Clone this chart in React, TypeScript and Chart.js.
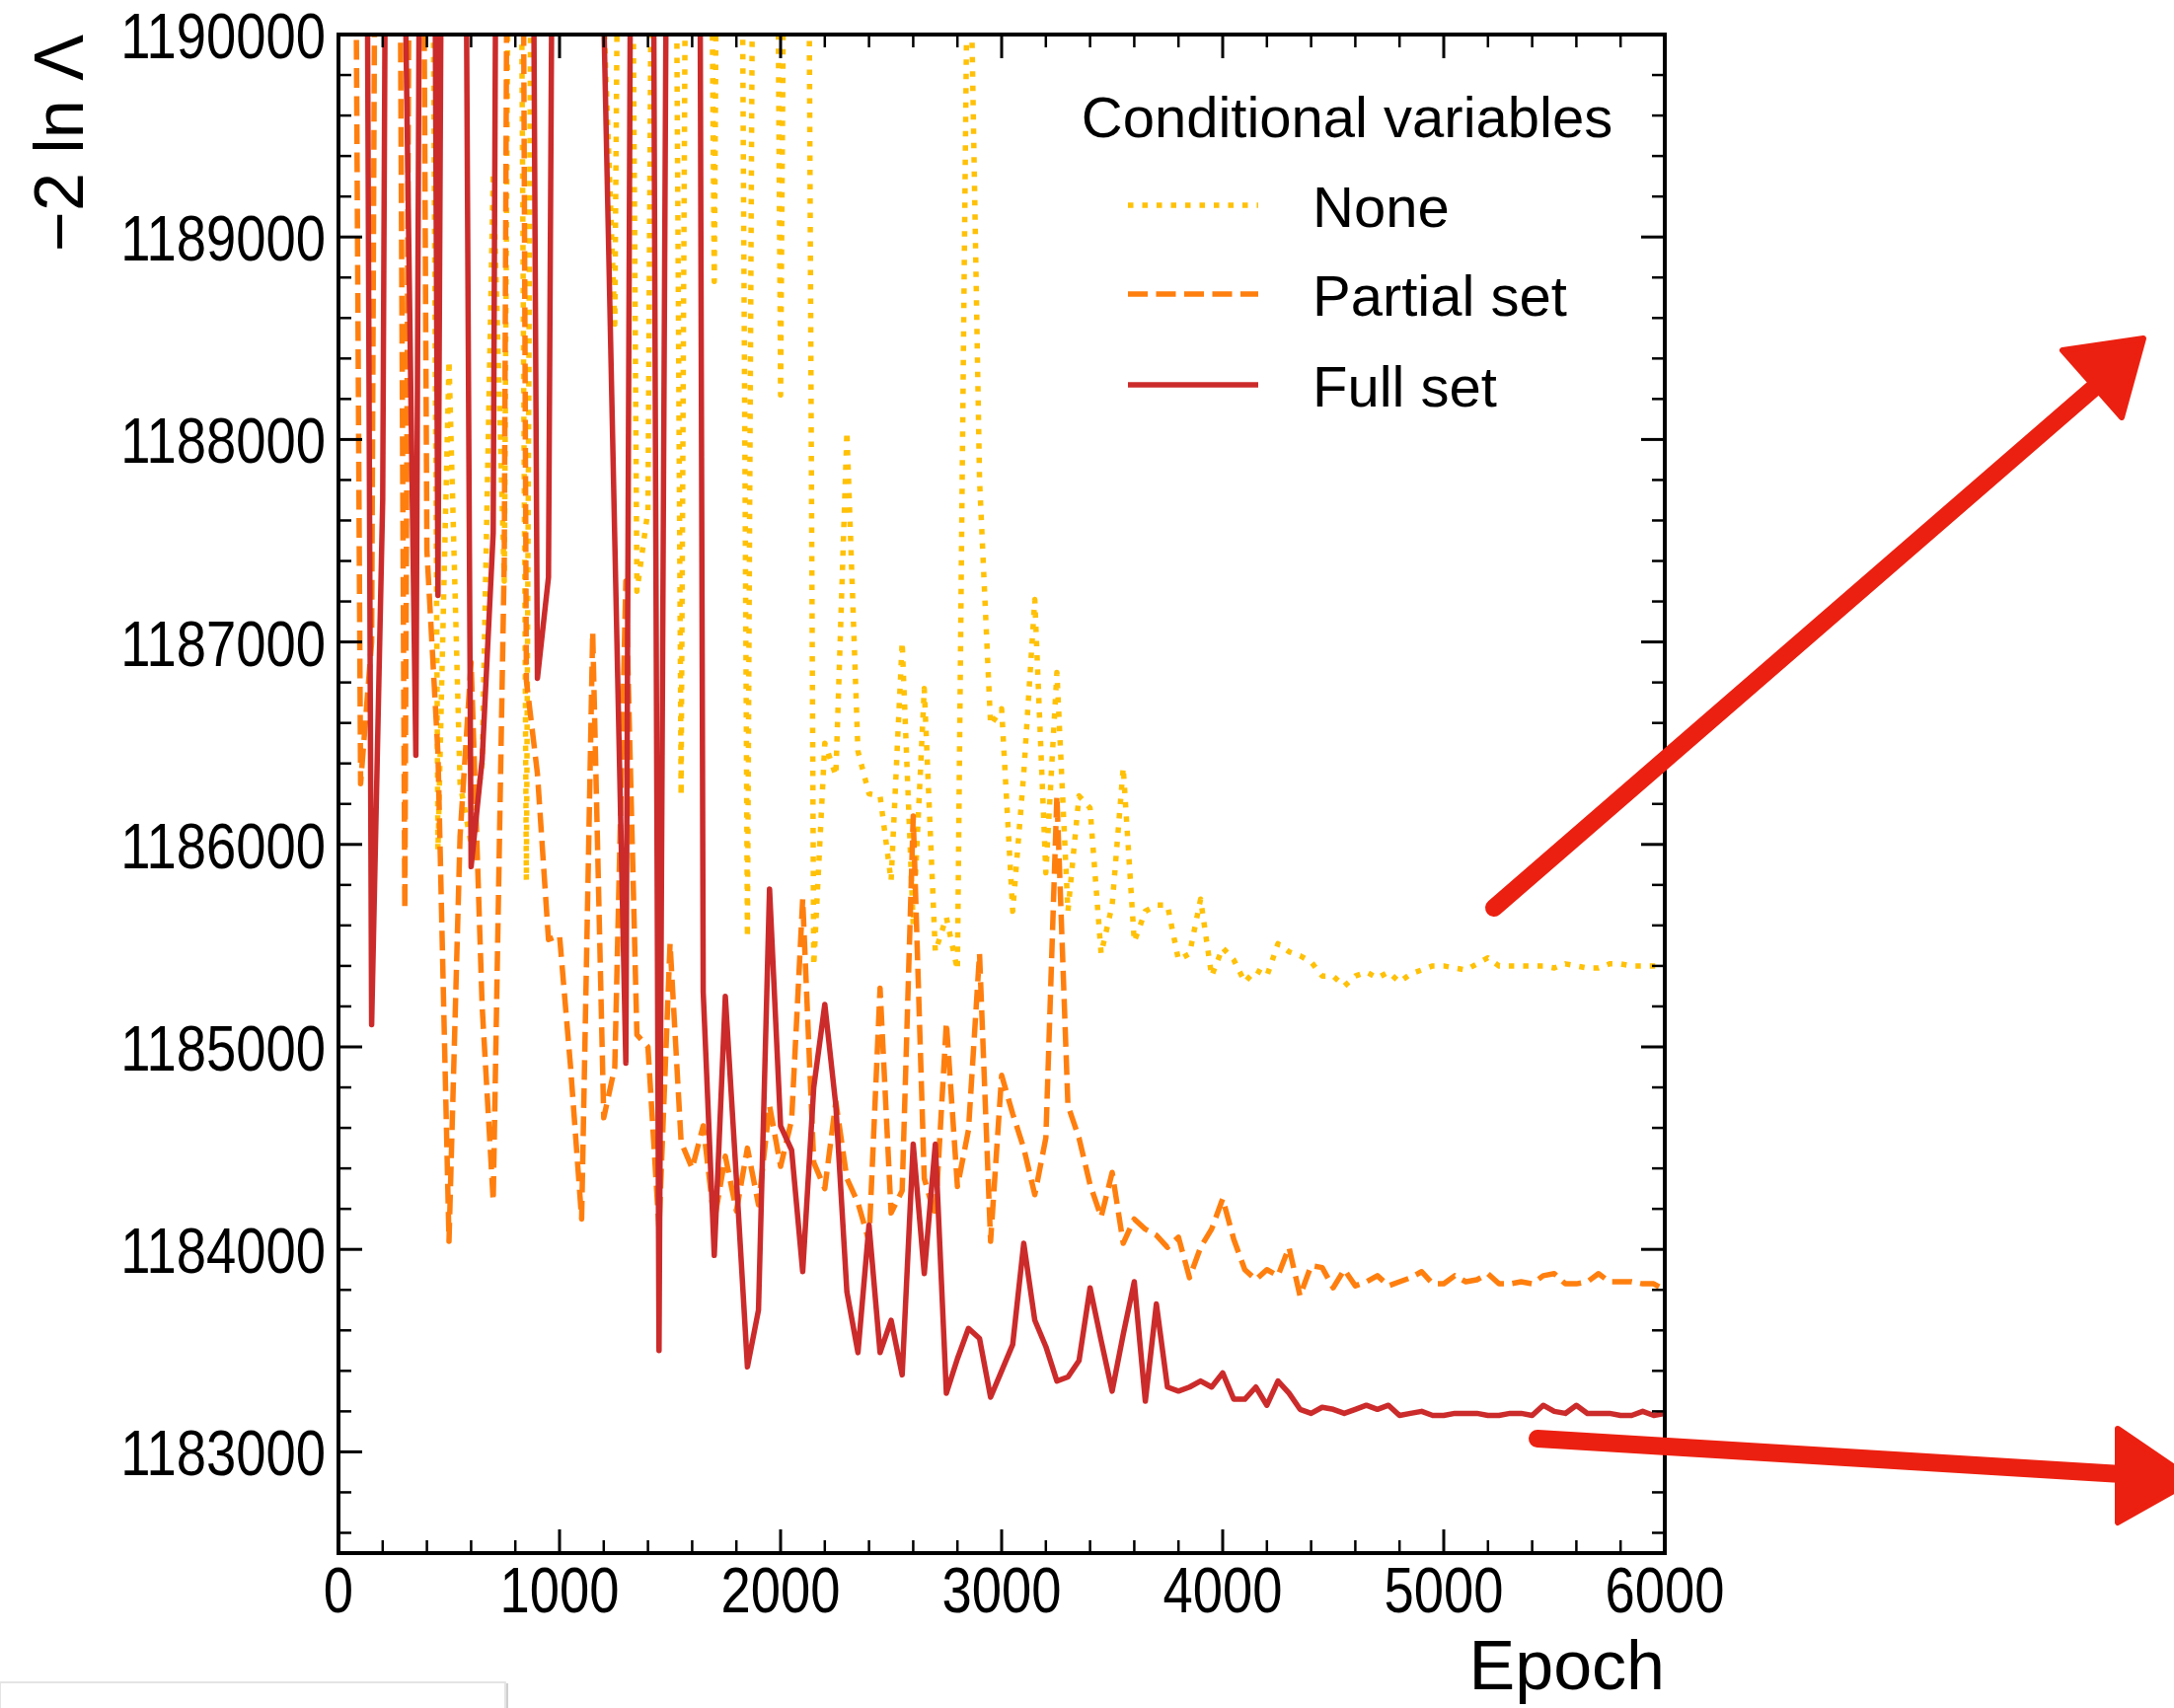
import React, { useEffect, useRef } from 'react';
import { Chart, registerables } from 'chart.js';

Chart.register(...registerables);

// ---------------- data ----------------
const EPOCHS = [
  0, 50, 100, 150, 200, 250, 300, 350, 400, 450, 500, 550, 600, 650, 700, 750, 800, 850, 900, 950,
  1000, 1050, 1100, 1150, 1200, 1250, 1300, 1350, 1400, 1450, 1500, 1550, 1600, 1650, 1700, 1750, 1800, 1850, 1900, 1950,
  2000, 2050, 2100, 2150, 2200, 2250, 2300, 2350, 2400, 2450, 2500, 2550, 2600, 2650, 2700, 2750, 2800, 2850, 2900, 2950,
  3000, 3050, 3100, 3150, 3200, 3250, 3300, 3350, 3400, 3450, 3500, 3550, 3600, 3650, 3700, 3750, 3800, 3850, 3900, 3950,
  4000, 4050, 4100, 4150, 4200, 4250, 4300, 4350, 4400, 4450, 4500, 4550, 4600, 4650, 4700, 4750, 4800, 4850, 4900, 4950,
  5000, 5050, 5100, 5150, 5200, 5250, 5300, 5350, 5400, 5450, 5500, 5550, 5600, 5650, 5700, 5750, 5800, 5850, 5900, 5950,
  6000,
];

const NONE = [
  1199000, 1198000, 1197000, 1196000, 1197000, 1198000, 1199000, 1198000, 1196000, 1185970,
  1188390, 1186300, 1186000, 1186400, 1189320, 1187300, 1196000, 1185820, 1197000, 1198000,
  1199000, 1197000, 1196000, 1198000, 1190100, 1188570, 1196000, 1187250, 1187650, 1197000,
  1196000, 1186240, 1197000, 1196000, 1188780, 1197000, 1196000, 1185540, 1196000, 1197000,
  1188220, 1196000, 1197000, 1185400, 1186500, 1186340, 1188040, 1186460, 1186250, 1186240,
  1185820, 1187000, 1185600, 1186770, 1185470, 1185640, 1185380, 1191000, 1187800, 1186590,
  1186670, 1185670, 1186350, 1187210, 1185860, 1186850, 1185670, 1186240, 1186180, 1185460,
  1185700, 1186380, 1185520, 1185670, 1185700, 1185700, 1185430, 1185460, 1185730, 1185350,
  1185490, 1185430, 1185320, 1185380, 1185350, 1185510, 1185470, 1185450, 1185420, 1185350,
  1185350, 1185300, 1185350, 1185370, 1185340, 1185370, 1185320, 1185360, 1185380, 1185400,
  1185400, 1185390, 1185380, 1185410, 1185440, 1185400, 1185400, 1185400, 1185400, 1185400,
  1185390, 1185410, 1185400, 1185390, 1185390, 1185410, 1185410, 1185400, 1185400, 1185400,
  1185400,
];

const PARTIAL_SET = [
  1199000, 1196000, 1186300, 1187000, 1199000, 1197000, 1185680, 1198000, 1187450, 1186450,
  1184040, 1186040, 1186900, 1185200, 1184240, 1187400, 1200000, 1186810, 1186350, 1185530,
  1185550, 1184900, 1184150, 1187050, 1184650, 1184900, 1187300, 1185060, 1185000, 1184100,
  1185510, 1184530, 1184400, 1184610, 1184140, 1184460, 1184190, 1184500, 1184220, 1184710,
  1184410, 1184640, 1185730, 1184430, 1184300, 1184730, 1184350, 1184230, 1184040, 1185290,
  1184180, 1184290, 1186140, 1184350, 1184160, 1185120, 1184310, 1184590, 1185460, 1184040,
  1184860, 1184670, 1184500, 1184270, 1184550, 1186240, 1184710, 1184550, 1184320, 1184160,
  1184380, 1184030, 1184150, 1184100, 1184070, 1184010, 1184060, 1183860, 1184010, 1184100,
  1184250, 1184050, 1183900, 1183850, 1183900, 1183870, 1184010, 1183770, 1183920, 1183910,
  1183810, 1183900, 1183820, 1183840, 1183870, 1183820, 1183840, 1183860, 1183890, 1183830,
  1183830, 1183870, 1183840, 1183850, 1183880, 1183830, 1183830, 1183840, 1183830, 1183870,
  1183880, 1183830, 1183830, 1183840, 1183880, 1183840, 1183840, 1183840, 1183830, 1183830,
  1183800,
];

const FULL_SET = [
  1199000, 1197000, 1198500, 1185110, 1187700, 1199000, 1190400, 1186440, 1199000, 1187230,
  1198000, 1196000, 1185890, 1186420, 1187540, 1200000, 1199000, 1197000, 1186820, 1187320,
  1197000, 1199000, 1198000, 1196000, 1190100, 1187500, 1184920, 1198000, 1197400, 1183500,
  1194000, 1199000, 1203000, 1185270, 1183970, 1185250, 1184350, 1183420, 1183700, 1185780,
  1184610, 1184490, 1183890, 1184800, 1185210, 1184710, 1183790, 1183490, 1184120, 1183490,
  1183650, 1183380, 1184520, 1183880, 1184520, 1183290, 1183460, 1183610, 1183560, 1183270,
  1183400, 1183530, 1184030, 1183650, 1183520, 1183350, 1183370, 1183450, 1183810, 1183550,
  1183300, 1183580, 1183840, 1183250, 1183730, 1183320, 1183300, 1183320, 1183350, 1183320,
  1183390, 1183260, 1183260, 1183320, 1183230, 1183350, 1183290, 1183210, 1183190, 1183220,
  1183210, 1183190, 1183210, 1183230, 1183210, 1183230, 1183180, 1183190, 1183200, 1183180,
  1183180, 1183190, 1183190, 1183190, 1183180, 1183180, 1183190, 1183190, 1183180, 1183230,
  1183200, 1183190, 1183230, 1183190, 1183190, 1183190, 1183180, 1183180, 1183200, 1183180,
  1183190,
];

const SERIES_LABELS = ['None', 'Partial set', 'Full set'];
const LEGEND_TITLE = 'Conditional variables';
const X_TITLE = 'Epoch';
const Y_TITLE = '\u22122 ln \u039B';
const X_TICKS = [0, 1000, 2000, 3000, 4000, 5000, 6000];
const Y_TICKS = [1183000, 1184000, 1185000, 1186000, 1187000, 1188000, 1189000, 1190000];

// ---------------- styles ----------------
const W = 2203;
const H = 1731;
const COLORS = ['#ffc107', '#ff7f0e', '#cc2b2b'];
const DASHES = [[5.5, 9], [20, 8.5], []];
const LINE_W = 5.5;
const TEXT_FONT = '"Liberation Sans", Arial, sans-serif';
const TICK_FONT = `64px ${TEXT_FONT}`;
const TICK_SQUEEZE = 0.85;
const ARROW_COLOR = '#ec2010';

const frameAndTicks = {
  id: 'frameAndTicks',
  afterDatasetsDraw(chart: any) {
    const { ctx, chartArea, scales } = chart;
    const { left, right, top, bottom } = chartArea;
    const xs = scales.x;
    const ys = scales.y;
    ctx.save();
    ctx.strokeStyle = '#000';
    const seg = (x1: number, y1: number, x2: number, y2: number) => {
      ctx.beginPath();
      ctx.moveTo(x1, y1);
      ctx.lineTo(x2, y2);
      ctx.stroke();
    };
    // minor ticks every 200
    ctx.lineWidth = 2.5;
    for (let v = 0; v <= 6000; v += 200) {
      if (v % 1000 === 0) continue;
      const px = xs.getPixelForValue(v);
      seg(px, bottom, px, bottom - 13);
      seg(px, top, px, top + 13);
    }
    for (let v = 1182600; v < 1190000; v += 200) {
      if (v % 1000 === 0) continue;
      const py = ys.getPixelForValue(v);
      seg(left, py, left + 13, py);
      seg(right, py, right - 13, py);
    }
    ctx.lineWidth = 3;
    for (const v of X_TICKS) {
      const px = xs.getPixelForValue(v);
      seg(px, bottom, px, bottom - 24);
      seg(px, top, px, top + 24);
    }
    for (const v of Y_TICKS) {
      const py = ys.getPixelForValue(v);
      seg(left, py, left + 24, py);
      seg(right, py, right - 24, py);
    }
    ctx.lineWidth = 4;
    ctx.strokeRect(left, top, right - left, bottom - top);

    // tick labels (narrow numerals)
    ctx.fillStyle = '#000';
    ctx.font = TICK_FONT;
    ctx.textBaseline = 'alphabetic';
    const put = (text: string, x: number, y: number, align: CanvasTextAlign) => {
      ctx.save();
      ctx.translate(x, y);
      ctx.scale(TICK_SQUEEZE, 1);
      ctx.textAlign = align;
      ctx.fillText(text, 0, 0);
      ctx.restore();
    };
    for (const v of Y_TICKS) {
      put(String(v), left - 13, ys.getPixelForValue(v) + 24, 'right');
    }
    for (const v of X_TICKS) {
      put(String(v), xs.getPixelForValue(v), bottom + 60, 'center');
    }
    ctx.restore();
  },
};

const legendAndNotes = {
  id: 'legendAndNotes',
  afterDraw(chart: any) {
    const { ctx, chartArea } = chart;
    const { left, top } = chartArea;
    ctx.save();
    // legend
    ctx.fillStyle = '#000';
    ctx.font = `58px ${TEXT_FONT}`;
    ctx.textBaseline = 'alphabetic';
    ctx.textAlign = 'center';
    ctx.fillText(LEGEND_TITLE, left + 1022, top + 104);
    const rows = [173, 263, 355];
    SERIES_LABELS.forEach((lab, i) => {
      const y = top + rows[i];
      ctx.strokeStyle = COLORS[i];
      ctx.lineWidth = LINE_W;
      ctx.lineCap = 'butt';
      ctx.setLineDash(DASHES[i]);
      ctx.beginPath();
      ctx.moveTo(left + 800, y);
      ctx.lineTo(left + 932, y);
      ctx.stroke();
      ctx.setLineDash([]);
      ctx.textAlign = 'left';
      ctx.fillStyle = '#000';
      ctx.fillText(lab, left + 987, y + 22);
    });

    // hand-drawn style arrows (annotations)
    ctx.strokeStyle = ARROW_COLOR;
    ctx.fillStyle = ARROW_COLOR;
    ctx.lineCap = 'round';
    ctx.lineJoin = 'round';
    ctx.lineWidth = 18;
    ctx.beginPath();
    ctx.moveTo(1514, 920);
    ctx.lineTo(2122, 393);
    ctx.stroke();
    ctx.beginPath();
    ctx.moveTo(2090, 355);
    ctx.lineTo(2172, 343);
    ctx.lineTo(2150, 423);
    ctx.closePath();
    ctx.fill();
    ctx.lineWidth = 6;
    ctx.stroke();

    ctx.lineWidth = 18;
    ctx.beginPath();
    ctx.moveTo(1558, 1458);
    ctx.lineTo(2150, 1494);
    ctx.stroke();
    ctx.beginPath();
    ctx.moveTo(2146, 1448);
    ctx.lineTo(2222, 1500);
    ctx.lineTo(2146, 1543);
    ctx.closePath();
    ctx.fill();
    ctx.lineWidth = 6;
    ctx.stroke();

    // faint box at bottom-left
    ctx.lineCap = 'butt';
    ctx.strokeStyle = '#e4e4e4';
    ctx.lineWidth = 2;
    ctx.strokeRect(0, 1705, 512, 40);
    ctx.strokeStyle = '#d0d0d0';
    ctx.beginPath();
    ctx.moveTo(514, 1706);
    ctx.lineTo(514, 1731);
    ctx.stroke();
    ctx.restore();
  },
};

export default function App() {
  const ref = useRef<HTMLCanvasElement | null>(null);

  useEffect(() => {
    document.body.style.margin = '0';
    const canvas = ref.current;
    if (!canvas) return;
    const seriesValues = [NONE, PARTIAL_SET, FULL_SET];
    const datasets = seriesValues.map((vals, i) => ({
      label: SERIES_LABELS[i],
      data: EPOCHS.map((e, j) => ({ x: e, y: vals[j] })),
      borderColor: COLORS[i],
      backgroundColor: COLORS[i],
      borderWidth: LINE_W,
      borderDash: DASHES[i],
      borderCapStyle: 'butt' as const,
      borderJoinStyle: 'round' as const,
      pointRadius: 0,
      tension: 0,
      fill: false,
      order: 3 - i,
    }));

    const chart = new Chart(canvas, {
      type: 'line',
      data: { datasets },
      options: {
        animation: false,
        responsive: false,
        devicePixelRatio: 1,
        events: [],
        layout: { padding: { top: 35, right: W - 1687, left: 0, bottom: 0 } },
        plugins: { legend: { display: false }, tooltip: { enabled: false } },
        scales: {
          x: {
            type: 'linear',
            min: 0,
            max: 6000,
            grid: { display: false, drawTicks: false },
            border: { display: false },
            afterBuildTicks: (s: any) => {
              s.ticks = X_TICKS.map((v) => ({ value: v }));
            },
            afterFit: (s: any) => {
              s.height = 157;
            },
            ticks: { display: false },
            title: {
              display: true,
              text: X_TITLE,
              align: 'end',
              color: '#000',
              font: { family: TEXT_FONT, size: 70, lineHeight: 1 },
              padding: { top: 0, bottom: 3 },
            },
          },
          y: {
            type: 'linear',
            min: 1182500,
            max: 1190000,
            grid: { display: false, drawTicks: false },
            border: { display: false },
            afterBuildTicks: (s: any) => {
              s.ticks = Y_TICKS.map((v) => ({ value: v }));
            },
            afterFit: (s: any) => {
              s.width = 343;
            },
            ticks: { display: false },
            title: {
              display: true,
              text: Y_TITLE,
              align: 'end',
              color: '#000',
              font: { family: TEXT_FONT, size: 70, lineHeight: 1 },
              padding: { top: 30, bottom: 0 },
            },
          },
        },
      },
      plugins: [frameAndTicks, legendAndNotes],
    } as any);

    return () => {
      chart.destroy();
    };
  }, []);

  return (
    <div style={{ width: W, height: H, position: 'relative', background: '#fff' }}>
      <canvas ref={ref} width={W} height={H} style={{ display: 'block', width: W, height: H }} />
    </div>
  );
}
